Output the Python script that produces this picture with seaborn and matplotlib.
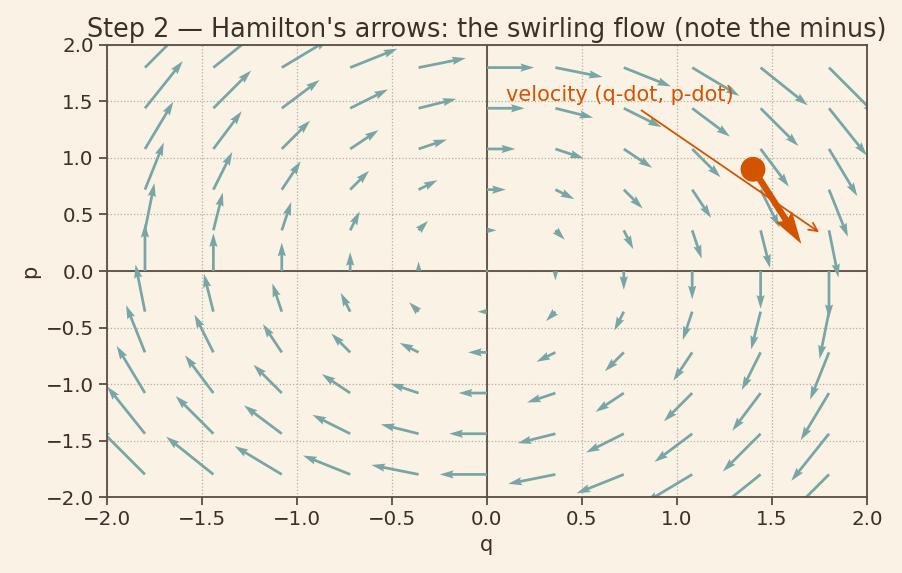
import matplotlib
matplotlib.use('Agg')
import matplotlib.pyplot as plt
import numpy as np
import seaborn as sns


BG = '#faf2e4'
INK = '#3b3129'
SPINE = '#5a4e44'
TEAL = '#78a6a6'
ORANGE = '#d35400'

q_grid = [-1.8, -1.44, -1.08, -0.72, -0.36, 0.0, 0.36, 0.72, 1.08, 1.44, 1.8]
p_grid = [-1.8, -1.44, -1.08, -0.72, -0.36, 0.0, 0.36, 0.72, 1.08, 1.44, 1.8]

# the sample state and its velocity
state_q = [1.4]
state_p = [0.9]

ticks = [-2.0, -1.5, -1.0, -0.5, 0.0, 0.5, 1.0, 1.5, 2.0]


def main():
    sns.set_theme(style='ticks', rc={
        'figure.facecolor': BG,
        'axes.facecolor': BG,
        'axes.edgecolor': SPINE,
        'axes.labelcolor': INK,
        'text.color': INK,
        'xtick.color': SPINE,
        'ytick.color': SPINE,
        'xtick.labelcolor': INK,
        'ytick.labelcolor': INK,
    })
    plt.rcParams['font.family'] = ['DejaVu Sans']

    fig, ax = plt.subplots(figsize=(9.02, 5.73), dpi=100)
    fig.subplots_adjust(left=0.1186, right=0.9612, top=0.9215, bottom=0.1326)

    Q, P = np.meshgrid(q_grid, p_grid)
    # Hamilton: q-dot = dH/dp, p-dot = -dH/dq
    U, V = P, -Q

    ax.grid(True, linestyle=':', color='#b8aea0', linewidth=0.9)
    ax.axhline(0, color=SPINE, lw=1.3, zorder=1)
    ax.axvline(0, color=SPINE, lw=1.3, zorder=1)

    ax.quiver(Q, P, U, V, color=TEAL, scale=29, width=0.0036, zorder=2)

    sq, sp = np.array(state_q), np.array(state_p)
    ax.quiver(sq, sp, sp, -sq, color=ORANGE, scale=14.3, width=0.0085, zorder=4)
    sns.scatterplot(x=state_q, y=state_p, ax=ax, color=ORANGE, s=320,
                    edgecolor='none', zorder=5, legend=False)

    ax.annotate('velocity (q-dot, p-dot)', xy=(1.76, 0.33), xytext=(0.1, 1.5),
                color=ORANGE, fontsize=15,
                arrowprops=dict(arrowstyle='->', color=ORANGE, lw=1.3))

    ax.set_xlim(-2, 2)
    ax.set_ylim(-2, 2)
    ax.set_xticks(ticks)
    ax.set_yticks(ticks)
    ax.tick_params(labelsize=14.3, length=6, width=1.3)
    for s in ax.spines.values():
        s.set_visible(True)
        s.set_linewidth(1.3)
    ax.set_xlabel('q', fontsize=15)
    ax.set_ylabel('p', fontsize=15)
    ax.set_title("Step 2 \u2014 Hamilton's arrows: the swirling flow (note the minus)",
                 fontsize=18.4, color=INK)

    fig.savefig('out.png', dpi=100, facecolor=BG)


if __name__ == '__main__':
    main()
